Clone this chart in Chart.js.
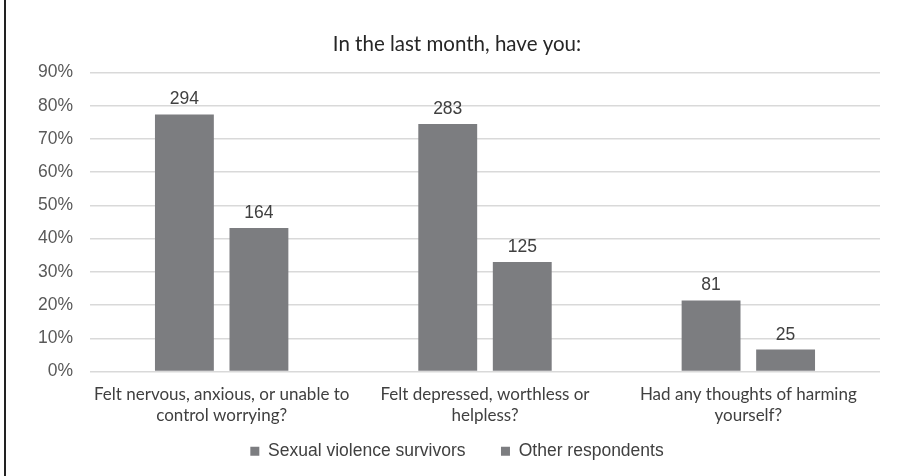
<!DOCTYPE html>
<html>
<head>
<meta charset="utf-8">
<script src="https://cdn.jsdelivr.net/npm/chart.js@4/dist/chart.umd.min.js"></script>
<style>
  html, body { margin: 0; padding: 0; background: #fff; }
  #wrap { position: relative; width: 902px; height: 476px; }
  #edge { position: absolute; left: 4px; top: 0; width: 2px; height: 476px; background: #222; }
  canvas { position: absolute; left: 0; top: 0; }
</style>
</head>
<body>
<div id="wrap">
  <canvas id="chart" width="902" height="476"></canvas>
  <div id="edge"></div>
</div>
<script>
// Survey questions (x-axis categories, split over two lines)
const categories = [
  ["Felt nervous, anxious, or unable to", "control worrying?"],
  ["Felt depressed, worthless or", "helpless?"],
  ["Had any thoughts of harming", "yourself?"]
];
const seriesNames = ["Sexual violence survivors", "Other respondents"];

// Share of each group answering yes (%)
const survivorsPct = [77.4, 74.5, 21.4];
const othersPct = [43.2, 33.0, 6.6];

// Respondent counts printed above the bars
const survivorsCount = [294, 283, 81];
const othersCount = [164, 125, 25];

const yTicks = [0, 10, 20, 30, 40, 50, 60, 70, 80, 90];

const barColor = '#7c7d80';
const textColor = '#404040';
const numFont = '"Liberation Sans", Arial, sans-serif';
const textFont = 'Lato, "Open Sans", sans-serif';

const countLabels = {
  id: 'countLabels',
  afterDatasetsDraw(chart) {
    const ctx = chart.ctx;
    ctx.save();
    ctx.font = '17.5px ' + numFont;
    ctx.fillStyle = textColor;
    ctx.textAlign = 'center';
    ctx.textBaseline = 'alphabetic';
    chart.data.datasets.forEach((ds, i) => {
      const meta = chart.getDatasetMeta(i);
      meta.data.forEach((bar, j) => {
        ctx.fillText(String(ds.counts[j]), bar.x, bar.y - 10);
      });
    });
    ctx.restore();
  }
};

new Chart(document.getElementById('chart'), {
  type: 'bar',
  data: {
    labels: categories,
    datasets: [
      { label: seriesNames[0], data: survivorsPct, counts: survivorsCount,
        backgroundColor: barColor, borderWidth: 0 },
      { label: seriesNames[1], data: othersPct, counts: othersCount,
        backgroundColor: barColor, borderWidth: 0 }
    ]
  },
  options: {
    responsive: false,
    animation: false,
    layout: { padding: { left: 34, right: 22, top: 32, bottom: 6 } },
    datasets: { bar: { categoryPercentage: 0.566, barPercentage: 0.79 } },
    plugins: {
      title: {
        display: true,
        text: 'In the last month, have you:',
        color: '#262626',
        font: { family: textFont, size: 20.5, weight: 'normal' },
        padding: { top: 0, bottom: 16 }
      },
      legend: {
        position: 'bottom',
        labels: {
          boxWidth: 9, boxHeight: 9,
          padding: 16,
          color: textColor,
          font: { family: numFont, size: 17.5 },
          generateLabels(chart) {
            const items = Chart.defaults.plugins.legend.labels.generateLabels(chart);
            // widen the gap after the first entry
            items.forEach((it, i) => { if (i < items.length - 1) it.text += '    '; });
            return items;
          }
        }
      },
      tooltip: { enabled: false }
    },
    scales: {
      x: {
        afterFit(scale) { scale.height = 55; },
        grid: { display: false, drawTicks: false },
        border: { display: false },
        ticks: {
          color: textColor,
          maxRotation: 0,
          autoSkip: false,
          padding: 13,
          font: { family: textFont, size: 17, lineHeight: 1.2 }
        }
      },
      y: {
        min: 0, max: 90,
        afterFit(scale) { scale.width = 56; },
        afterBuildTicks(scale) { scale.ticks = yTicks.map(v => ({ value: v })); },
        grid: { color: '#d9d9d9', lineWidth: 1.5, drawTicks: false },
        border: { display: false },
        ticks: {
          color: '#595959',
          padding: 17,
          font: { family: numFont, size: 17.5 },
          callback: v => v + '%'
        }
      }
    }
  },
  plugins: [countLabels]
});
</script>
</body>
</html>
